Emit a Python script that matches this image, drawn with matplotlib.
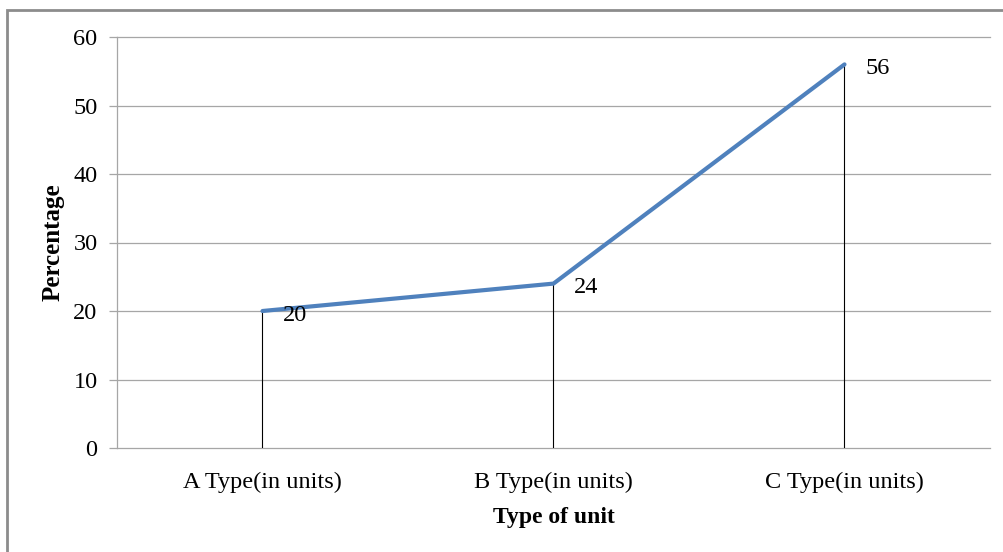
import matplotlib
matplotlib.use("Agg")
import matplotlib.pyplot as plt
from matplotlib.patches import Rectangle

categories = ["A Type(in units)", "B Type(in units)", "C Type(in units)"]
values = [20, 24, 56]
yticks = [0, 10, 20, 30, 40, 50, 60]

plt.rcParams['font.family'] = ['Liberation Serif', 'DejaVu Serif']

W, H = 1004, 552
fig = plt.figure(figsize=(W / 100, H / 100), dpi=100)
ax = fig.add_axes([117 / W, (H - 448) / H, (990 - 117) / W, (448 - 37) / H])

x = [i + 0.5 for i in range(len(categories))]
grid_c = '#A6A6A6'
for yv in yticks:
    ax.axhline(yv, color=grid_c, lw=0.9, zorder=1, clip_on=False)

ax.vlines(x, 0, values, color='black', lw=0.8, zorder=2)
ax.plot(x, values, color='#4F81BD', lw=3.0, solid_capstyle='round', zorder=3)
for xi, v in zip(x, values):
    ax.annotate(str(v), (xi, v), xytext=(15, -3), textcoords='offset points',
                ha='left', va='center', fontsize=17.5, zorder=4)

ax.set_xlim(0, 3)
ax.set_ylim(0, 60)
ax.set_yticks(yticks)
ax.set_xticks(x)
ax.set_xticklabels(categories)
ax.tick_params(axis='y', length=6, width=0.9, color=grid_c, labelsize=17.5, pad=8)
ax.tick_params(axis='x', length=0, labelsize=17.5, pad=17)
for s in ['top', 'right', 'bottom']:
    ax.spines[s].set_visible(False)
ax.spines['left'].set_color(grid_c)
ax.spines['left'].set_linewidth(0.9)

ax.set_xlabel('Type of unit', fontsize=17, fontweight='bold', labelpad=10)
ax.set_ylabel('Percentage', fontsize=18, fontweight='bold', labelpad=6)

fig.patches.append(Rectangle((7 / W, -0.1), 1.2, (H - 10) / H + 0.1,
                             transform=fig.transFigure, fill=False,
                             edgecolor='#8C8C8C', lw=2.0, zorder=0))

fig.savefig('out.png', dpi=100)
